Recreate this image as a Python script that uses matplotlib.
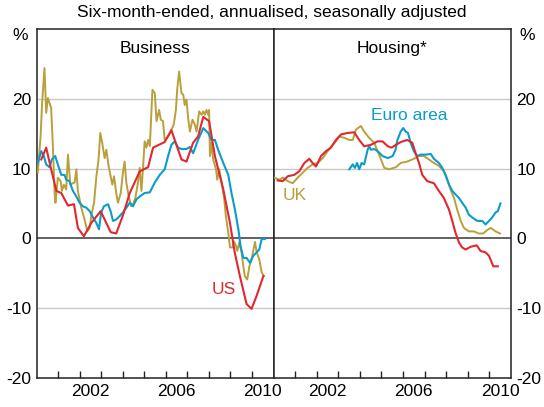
import matplotlib.pyplot as plt
import numpy as np

plt.rcParams['font.family'] = ['Liberation Sans', 'DejaVu Sans']

RED = '#E0282E'
BLUE = '#0A9DCB'
GOLD = '#B9A03C'

# Business credit growth, six-month-ended annualised (%)
us_bus_t = [2000.22, 2000.45, 2000.68, 2000.92, 2001.15, 2001.46, 2001.74, 2001.92, 2002.2, 2002.54,
            2002.98, 2003.44, 2003.7, 2004.0, 2004.33, 2004.79, 2005.18, 2005.41, 2005.95, 2006.26,
            2006.73, 2006.96, 2007.27, 2007.5, 2007.74, 2008.01, 2008.28, 2008.67, 2008.98, 2009.2,
            2009.44, 2009.75, 2009.98, 2010.22, 2010.53]
us_bus_v = [11.3, 13.0, 9.9, 6.8, 6.5, 4.7, 4.9, 1.5, 0.3, 2.2,
            3.9, 0.9, 0.7, 3.2, 6.5, 9.6, 10.2, 13.0, 13.8, 15.5,
            11.3, 11.0, 13.7, 14.6, 17.4, 16.8, 11.8, 7.0, 2.2, -2.0,
            -5.4, -9.4, -10.1, -8.2, -5.4]

euro_bus_t = [2000.06, 2000.22, 2000.34, 2000.45, 2000.6, 2000.71, 2000.87, 2001.02, 2001.15, 2001.3,
              2001.38, 2001.53, 2001.69, 2001.85, 2002.0, 2002.15, 2002.31, 2002.47, 2002.62, 2002.78,
              2002.9, 2003.0, 2003.13, 2003.32, 2003.44, 2003.55, 2003.7, 2003.86, 2004.01, 2004.17,
              2004.33, 2004.48, 2004.64, 2004.79, 2005.02, 2005.26, 2005.49, 2005.72, 2005.95, 2006.11,
              2006.26, 2006.42, 2006.57, 2006.73, 2006.96, 2007.12, 2007.27, 2007.5, 2007.74, 2007.97,
              2008.12, 2008.28, 2008.43, 2008.67, 2008.9, 2009.05, 2009.21, 2009.37, 2009.47, 2009.6,
              2009.75, 2009.91, 2010.06, 2010.22, 2010.34, 2010.45, 2010.6]
euro_bus_v = [10.8, 12.5, 11.8, 10.6, 10.2, 11.3, 11.8, 10.3, 9.1, 9.1,
              8.4, 8.2, 6.8, 6.0, 5.1, 4.6, 4.4, 3.9, 3.0, 2.2,
              1.3, 3.7, 4.6, 4.9, 3.9, 2.5, 2.7, 3.2, 3.7, 4.4,
              5.1, 4.6, 5.6, 6.0, 6.5, 6.6, 8.0, 9.1, 9.9, 11.8,
              13.4, 13.9, 13.0, 12.8, 12.8, 13.1, 12.2, 14.1, 15.8, 15.1,
              14.1, 14.1, 12.7, 10.8, 9.1, 6.5, 4.1, 1.3, -1.1, -2.8,
              -2.8, -3.5, -2.5, -2.0, -1.6, -0.1, -0.1]

uk_bus_t = [2000.06, 2000.19, 2000.26, 2000.37, 2000.45, 2000.53, 2000.68, 2000.76, 2000.84, 2000.88,
            2000.99, 2001.12, 2001.18, 2001.27, 2001.38, 2001.46, 2001.57, 2001.69, 2001.77, 2001.85,
            2001.92, 2002.08, 2002.23, 2002.36, 2002.47, 2002.54, 2002.67, 2002.78, 2002.88, 2002.96,
            2003.05, 2003.16, 2003.24, 2003.35, 2003.44, 2003.52, 2003.6, 2003.7, 2003.78, 2003.91,
            2004.01, 2004.09, 2004.17, 2004.28, 2004.4, 2004.48, 2004.59, 2004.71, 2004.79, 2004.87,
            2004.94, 2005.02, 2005.1, 2005.18, 2005.26, 2005.38, 2005.49, 2005.57, 2005.69, 2005.77,
            2005.87, 2005.95, 2006.11, 2006.22, 2006.37, 2006.47, 2006.53, 2006.62, 2006.73, 2006.81,
            2006.88, 2006.96, 2007.04, 2007.12, 2007.24, 2007.35, 2007.43, 2007.55, 2007.66, 2007.74,
            2007.81, 2007.89, 2007.97, 2008.01, 2008.05, 2008.12, 2008.2, 2008.33, 2008.39, 2008.48,
            2008.59, 2008.7, 2008.79, 2008.9, 2008.98, 2009.1, 2009.16, 2009.26, 2009.32, 2009.41,
            2009.52, 2009.6, 2009.67, 2009.78, 2009.88, 2009.98, 2010.06, 2010.14, 2010.22, 2010.34,
            2010.45, 2010.56]
uk_bus_v = [9.4, 14.6, 19.4, 24.4, 18.0, 20.1, 18.7, 13.2, 6.5, 5.1,
            8.7, 8.2, 6.8, 7.7, 7.0, 12.0, 7.7, 7.9, 8.0, 9.9,
            6.8, 4.4, 2.7, 1.0, 1.5, 3.2, 5.1, 8.9, 11.3, 15.1,
            13.7, 11.5, 12.7, 10.3, 8.9, 7.7, 8.9, 6.5, 5.1, 6.5,
            9.4, 11.0, 8.0, 6.0, 4.6, 4.9, 5.8, 8.0, 10.1, 6.8,
            9.9, 13.9, 13.0, 14.1, 13.2, 21.3, 20.8, 16.8, 18.4, 17.0,
            16.8, 14.1, 14.6, 15.3, 16.3, 18.4, 21.3, 23.9, 20.8, 20.6,
            19.1, 19.9, 17.2, 15.3, 17.0, 16.3, 15.3, 18.2, 17.7, 18.2,
            17.7, 18.4, 17.7, 18.4, 11.8, 13.7, 11.3, 9.9, 8.4, 9.9,
            8.0, 6.0, 3.2, 0.8, -1.3, -1.3, -0.4, -1.1, -1.8, -0.6,
            -2.0, -4.0, -5.4, -5.9, -4.0, -3.0, -1.8, -0.5, -2.0, -3.0,
            -4.9, -5.4]

# Housing credit growth (%)
us_hou_t = [2000.19, 2000.43, 2000.66, 2000.96, 2001.19, 2001.43, 2001.66, 2001.81, 2001.97, 2002.2,
            2002.43, 2002.66, 2002.89, 2003.13, 2003.43, 2003.74, 2003.97, 2004.2, 2004.51, 2004.82,
            2005.05, 2005.29, 2005.47, 2005.67, 2005.89, 2006.19, 2006.43, 2006.58, 2006.74, 2006.89,
            2007.12, 2007.43, 2007.66, 2007.89, 2008.13, 2008.28, 2008.43, 2008.59, 2008.74, 2008.9,
            2009.13, 2009.41, 2009.59, 2009.82, 2009.98, 2010.18, 2010.39]
us_hou_v = [8.3, 8.2, 8.9, 9.1, 9.6, 10.8, 11.4, 10.8, 10.3, 11.8,
            12.5, 13.0, 14.1, 14.9, 15.1, 15.2, 14.1, 13.2, 13.4, 13.9,
            13.9, 13.2, 13.0, 13.4, 13.8, 14.1, 13.7, 12.2, 10.8, 9.1,
            8.2, 7.9, 6.8, 5.8, 4.1, 2.5, 0.8, -0.6, -1.3, -1.6,
            -1.2, -1.0, -1.8, -2.0, -2.5, -4.0, -4.0]

euro_hou_t = [2003.51, 2003.67, 2003.77, 2003.87, 2003.97, 2004.08, 2004.2, 2004.36, 2004.43, 2004.51,
              2004.67, 2004.82, 2005.05, 2005.29, 2005.52, 2005.65, 2005.74, 2005.89, 2006.01, 2006.12,
              2006.23, 2006.35, 2006.5, 2006.66, 2006.81, 2007.05, 2007.28, 2007.43, 2007.66, 2007.82,
              2007.97, 2008.13, 2008.28, 2008.43, 2008.59, 2008.74, 2008.9, 2009.05, 2009.2, 2009.44,
              2009.67, 2009.82, 2009.98, 2010.13, 2010.28, 2010.39, 2010.51]
euro_hou_v = [9.9, 10.6, 10.1, 10.8, 9.9, 10.8, 10.6, 12.7, 13.2, 12.7,
              12.8, 12.5, 11.8, 11.5, 11.8, 12.7, 14.1, 15.3, 15.8, 15.3,
              15.1, 13.7, 12.5, 11.8, 12.0, 12.0, 12.1, 11.4, 10.8, 10.1,
              9.1, 7.7, 6.8, 6.3, 5.8, 5.1, 4.4, 3.4, 3.0, 2.5,
              2.5, 2.0, 2.5, 3.0, 3.7, 3.9, 5.0]

uk_hou_t = [2000.04, 2000.27, 2000.43, 2000.66, 2000.89, 2001.12, 2001.35, 2001.58, 2001.81, 2002.05,
            2002.28, 2002.51, 2002.74, 2002.89, 2003.05, 2003.28, 2003.51, 2003.67, 2003.82, 2004.05,
            2004.2, 2004.43, 2004.67, 2004.82, 2004.98, 2005.13, 2005.36, 2005.67, 2005.89, 2006.19,
            2006.5, 2006.74, 2006.97, 2007.2, 2007.43, 2007.66, 2007.89, 2008.05, 2008.2, 2008.36,
            2008.51, 2008.67, 2008.82, 2009.05, 2009.28, 2009.51, 2009.71, 2009.9, 2010.06, 2010.29,
            2010.49]
uk_hou_v = [8.7, 8.4, 8.7, 8.2, 7.9, 8.7, 9.4, 10.1, 10.6, 10.8,
            11.5, 12.5, 13.4, 13.9, 14.6, 14.4, 14.1, 14.1, 15.6, 16.1,
            15.3, 14.4, 13.7, 12.5, 11.3, 10.1, 9.9, 10.2, 10.8, 11.0,
            11.4, 11.8, 11.8, 11.3, 10.8, 10.4, 9.6, 8.4, 7.0, 5.8,
            4.1, 2.5, 1.5, 1.0, 1.0, 0.7, 0.7, 1.2, 1.5, 1.0,
            0.7]

y_ticks = [-20, -10, 0, 10, 20]
year_ticks = list(range(2001, 2011))
label_years = [2002, 2006, 2010]

FS = 12.5

fig = plt.figure(figsize=(5.44, 4.07), dpi=100)
ax1 = fig.add_axes([36.5 / 544, 0.0713, 237 / 544, 0.8575])
ax2 = fig.add_axes([273.5 / 544, 0.0713, 237.5 / 544, 0.8575])


def style(ax, side):
    ax.set_xlim(2000, 2011)
    ax.set_ylim(-20, 30)
    for g in [-10, 10, 20]:
        ax.axhline(g, color='#C8C8C8', lw=1, zorder=0)
    ax.axhline(0, color='#555555', lw=1.3, zorder=1)
    ax.set_xticks(year_ticks)
    ax.set_xticklabels([])
    ax.set_xticks([y + 0.5 for y in label_years], minor=True)
    ax.set_xticklabels([str(y) for y in label_years], minor=True, fontsize=FS)
    ax.tick_params(axis='x', which='major', direction='in', length=5, width=1, color='#222222')
    ax.tick_params(axis='x', which='minor', length=0, pad=4)
    ax.set_yticks(y_ticks)
    ax.set_yticklabels([str(v) for v in y_ticks], fontsize=FS)
    ax.tick_params(axis='y', length=0, pad=4)
    if side == 'right':
        ax.yaxis.tick_right()
    for s in ax.spines.values():
        s.set_linewidth(1.1)
        s.set_color('#222222')


style(ax1, 'left')
style(ax2, 'right')

ax1.plot(uk_bus_t, uk_bus_v, color=GOLD, lw=1.4, zorder=3)
ax1.plot(euro_bus_t, euro_bus_v, color=BLUE, lw=1.5, zorder=4)
ax1.plot(us_bus_t, us_bus_v, color=RED, lw=1.5, zorder=5)

ax2.plot(uk_hou_t, uk_hou_v, color=GOLD, lw=1.4, zorder=3)
ax2.plot(euro_hou_t, euro_hou_v, color=BLUE, lw=1.5, zorder=4)
ax2.plot(us_hou_t, us_hou_v, color=RED, lw=1.5, zorder=5)

ax1.text(0.5, 0.965, 'Business', transform=ax1.transAxes, ha='center', va='top', fontsize=FS)
ax2.text(0.5, 0.965, 'Housing*', transform=ax2.transAxes, ha='center', va='top', fontsize=FS)
ax1.text(2008.7, -7.3, 'US', color=RED, ha='center', va='center', fontsize=FS)
ax2.text(2006.27, 17.6, 'Euro area', color=BLUE, ha='center', va='center', fontsize=FS)
ax2.text(2001.0, 6.1, 'UK', color=GOLD, ha='center', va='center', fontsize=FS)

fig.text(20 / 544, 1 - 36 / 407, '%', ha='center', va='center', fontsize=FS)
fig.text(527 / 544, 1 - 36 / 407, '%', ha='center', va='center', fontsize=FS)
fig.text(0.5, 1 - 13 / 407, 'Six-month-ended, annualised, seasonally adjusted', ha='center', va='center', fontsize=FS)

fig.savefig('out.png', dpi=100)
